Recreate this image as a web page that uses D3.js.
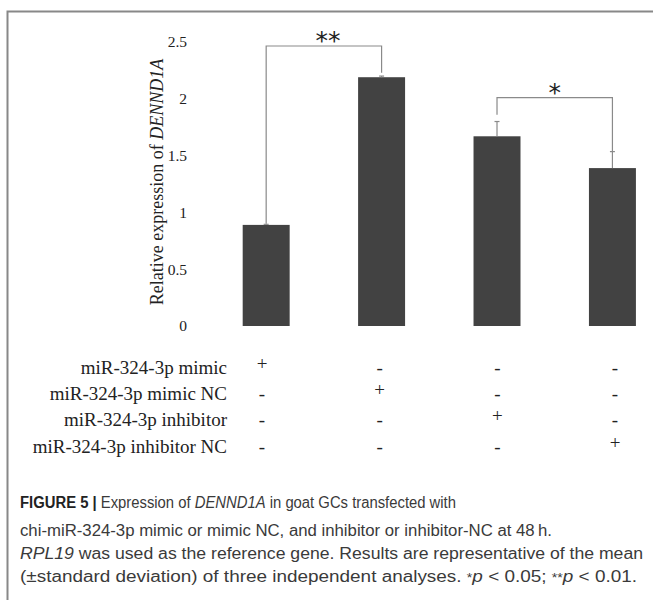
<!DOCTYPE html>
<html>
<head>
<style>
body { margin: 0; background: #fff; }
svg { display: block; }
.serif { font-family: "Liberation Serif", "Times New Roman", serif; fill: #222; }
.cap { font-family: "Liberation Sans", Arial, sans-serif; fill: #3a3a3a; }
</style>
<script src="https://d3js.org/d3.v7.min.js"></script>
</head>
<body>
<svg width="654" height="600"></svg>
<script>
// groups and values
var groups = ["mimic", "mimic NC", "inhibitor", "inhibitor NC"];
var values = [0.89, 2.19, 1.67, 1.39];
var errors = [0.005, 0.01, 0.13, 0.145];
var yTicks = [0, 0.5, 1, 1.5, 2, 2.5];

var rowLabels = ["miR-324-3p mimic", "miR-324-3p mimic NC", "miR-324-3p inhibitor", "miR-324-3p inhibitor NC"];
var signs = [
  ["+", "-", "-", "-"],
  ["-", "+", "-", "-"],
  ["-", "-", "+", "-"],
  ["-", "-", "-", "+"]
];

// significance brackets: from group, to group, top level, leg ends
var brackets = [
  { a: 0, b: 1, top: 2.465, aEnd: 0.9, bEnd: 2.23, label: "**" },
  { a: 2, b: 3, top: 2.01, aEnd: 1.86, bEnd: 1.54, label: "*" }
];

const svg = d3.select("svg");

// frame
svg.append("path")
  .attr("d", "M7.5,600V11.5H653")
  .attr("fill", "none")
  .attr("stroke", "#888")
  .attr("stroke-width", 2);

var x = d3.scaleBand()
  .domain(groups)
  .range([219.6, 659])
  .paddingInner(0.593)
  .paddingOuter(0.2);

var y = d3.scaleLinear()
  .domain([0, 2.5])
  .range([326, 42]);

var cx = function(i) { return x(groups[i]) + x.bandwidth() / 2; };

// y axis: labels only
var yAxis = d3.axisLeft(y)
  .tickValues(yTicks)
  .tickFormat(d3.format("~g"))
  .tickSize(0)
  .tickPadding(0);

var ga = svg.append("g")
  .attr("transform", "translate(187,0)")
  .call(yAxis);
ga.select(".domain").remove();
ga.selectAll("text")
  .attr("class", "serif")
  .attr("font-size", 15.5)
  .attr("fill", "#222");

svg.append("text")
  .attr("class", "serif")
  .attr("font-size", 18)
  .attr("text-anchor", "middle")
  .attr("transform", "translate(163,182) rotate(-90)")
  .call(function(t) {
    t.append("tspan").text("Relative expression of ");
    t.append("tspan").attr("font-style", "italic").text("DENND1A");
  });

// bars
svg.append("g")
  .selectAll("rect")
  .data(values)
  .enter()
  .append("rect")
  .attr("x", function(d, i) { return x(groups[i]); })
  .attr("y", function(d) { return y(d); })
  .attr("width", x.bandwidth())
  .attr("height", function(d) { return y(0) - y(d); })
  .attr("fill", "#424242");

// error bars
var eb = svg.append("g")
  .attr("stroke", "#8a8a8a")
  .attr("stroke-width", 1.2);
values.forEach(function(v, i) {
  eb.append("line")
    .attr("x1", cx(i)).attr("x2", cx(i))
    .attr("y1", y(v)).attr("y2", y(v + errors[i]));
  eb.append("line")
    .attr("x1", cx(i) - 2.5).attr("x2", cx(i) + 2.5)
    .attr("y1", y(v + errors[i])).attr("y2", y(v + errors[i]));
});

// brackets
var bg = svg.append("g");
brackets.forEach(function(b) {
  var x1 = cx(b.a), x2 = cx(b.b);
  bg.append("path")
    .attr("d", "M" + x1 + "," + y(b.aEnd) + "V" + y(b.top) + "H" + x2 + "V" + y(b.bEnd))
    .attr("fill", "none")
    .attr("stroke", "#8a8a8a")
    .attr("stroke-width", 1.2);
  bg.append("text")
    .attr("x", (x1 + x2) / 2 + (b.label.length > 1 ? 4 : 0))
    .attr("y", y(b.top) + 3)
    .attr("text-anchor", "middle")
    .attr("font-family", "DejaVu Sans, sans-serif")
    .attr("font-size", 25)
    .attr("fill", "#222")
    .text(b.label);
});

// treatment table
var col = d3.scalePoint()
  .domain(groups)
  .range([262, 615]);

var row = d3.scalePoint()
  .domain(rowLabels)
  .range([367, 446]);

var tg = svg.append("g");
rowLabels.forEach(function(lab, r) {
  tg.append("text")
    .attr("class", "serif")
    .attr("font-size", 19)
    .attr("x", 227)
    .attr("y", row(lab))
    .attr("dy", "0.35em")
    .attr("text-anchor", "end")
    .text(lab);
  signs[r].forEach(function(s, c) {
    tg.append("text")
      .attr("class", "serif")
      .attr("font-size", 19)
      .attr("x", col(groups[c]))
      .attr("y", row(lab) - (s === "+" ? 4 : 0))
      .attr("dy", "0.35em")
      .attr("text-anchor", "middle")
      .text(s);
  });
});

// caption
var capLines = [
  [["b", "FIGURE 5 | "], ["", "Expression of "], ["i", "DENND1A"], ["", " in goat GCs transfected with"]],
  [["", "chi-miR-324-3p mimic or mimic NC, and inhibitor or inhibitor-NC at 48\u2009h."]],
  [["i", "RPL19"], ["", " was used as the reference gene. Results are representative of the mean"]],
  [["", "(\u00b1standard deviation) of three independent analyses. "], ["s", "*"], ["i", "p"], ["", " < 0.05; "], ["s", "**"], ["i", "p"], ["", " < 0.01."]]
];
var capY = [508, 536, 559, 582];
var capW = [436, 532, 623, 617];

capLines.forEach(function(parts, li) {
  var t = svg.append("text")
    .attr("class", "cap")
    .attr("font-size", 16)
    .attr("x", 20)
    .attr("y", capY[li]);
  parts.forEach(function(p) {
    var s = t.append("tspan").text(p[1]);
    if (p[0] === "b") s.attr("font-weight", "bold").attr("fill", "#222");
    if (p[0] === "i") s.attr("font-style", "italic");
    if (p[0] === "s") s.attr("font-size", 12);
  });
  t.attr("textLength", capW[li]).attr("lengthAdjust", "spacingAndGlyphs");
});
</script>
</body>
</html>
